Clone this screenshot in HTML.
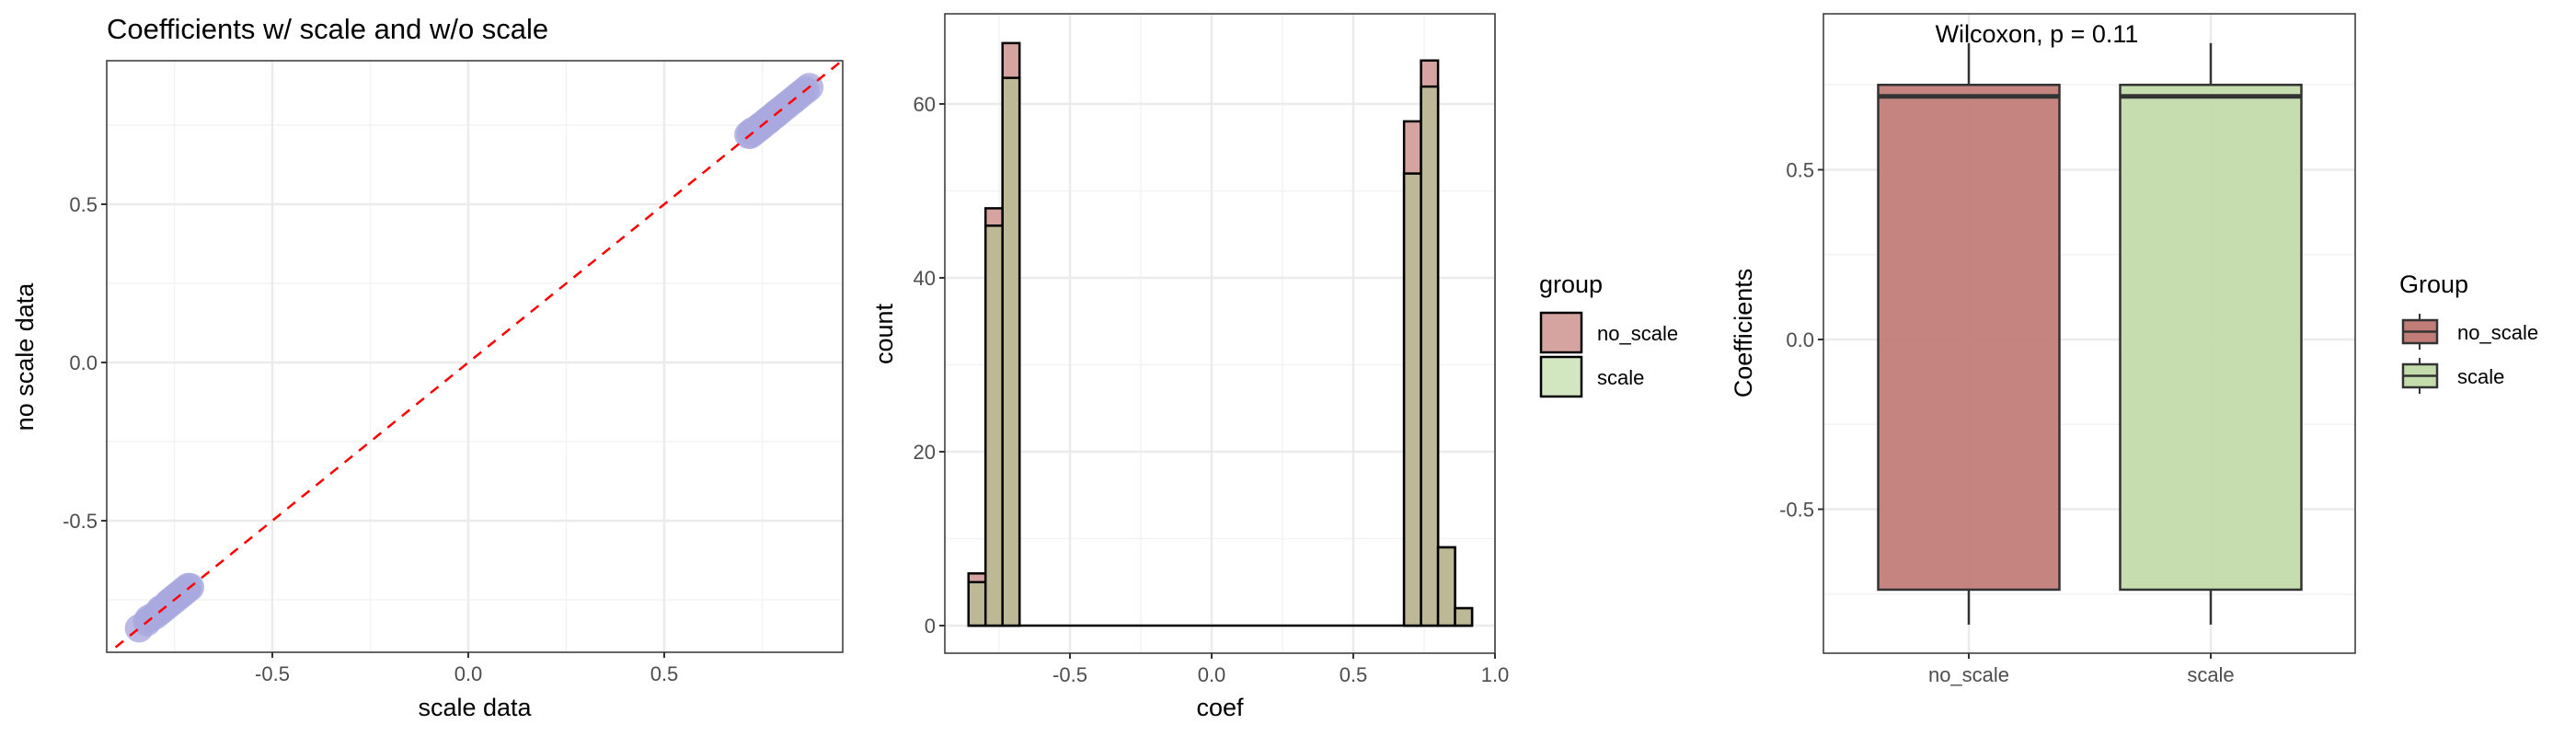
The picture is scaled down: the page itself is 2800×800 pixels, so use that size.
<!DOCTYPE html>
<html><head><meta charset="utf-8"><style>
html,body{margin:0;padding:0;background:#fff;}
svg{display:block;font-family:"Liberation Sans",sans-serif;}
</style></head><body>
<svg id="chart" width="2800" height="800" viewBox="0 0 2800 800" xmlns="http://www.w3.org/2000/svg"></svg>
<script>
// ---------- data ----------
const scatterX = [-0.84,-0.82,-0.815,-0.80,-0.79,-0.785,-0.78,-0.77,-0.765,-0.76,-0.755,-0.75,-0.745,-0.74,-0.735,-0.73,-0.725,-0.72,-0.715,-0.71,
  0.715,0.72,0.725,0.73,0.74,0.745,0.75,0.76,0.765,0.77,0.78,0.785,0.79,0.80,0.81,0.82,0.83,0.84,0.85,0.86,0.87];
const scatterY = [-0.84,-0.82,-0.81,-0.80,-0.79,-0.78,-0.78,-0.77,-0.76,-0.76,-0.75,-0.75,-0.74,-0.74,-0.73,-0.73,-0.72,-0.72,-0.71,-0.71,
  0.72,0.72,0.73,0.73,0.74,0.745,0.75,0.76,0.765,0.77,0.78,0.785,0.79,0.80,0.81,0.82,0.83,0.84,0.85,0.86,0.87];
const scatterTicks = [-0.5,0.0,0.5];
const scatterTickLabels = ["-0.5","0.0","0.5"];

const binStarts = [-0.858,-0.798,-0.738,-0.678,-0.618,-0.558,-0.498,-0.438,-0.378,-0.318,-0.258,-0.198,-0.138,-0.078,-0.018,0.042,0.102,0.162,0.222,0.282,0.342,0.402,0.462,0.522,0.582,0.619,0.679,0.739,0.799,0.859];
const noScaleCounts = [6,48,67,0,0,0,0,0,0,0,0,0,0,0,0,0,0,0,0,0,0,0,0,0,0,0,58,65,9,2];
const scaleCounts   = [5,46,63,0,0,0,0,0,0,0,0,0,0,0,0,0,0,0,0,0,0,0,0,0,0,0,52,62,9,2];
const binWidth = 0.06;
const histXTicks = [-0.5,0.0,0.5,1.0];
const histXTickLabels = ["-0.5","0.0","0.5","1.0"];
const histYTicks = [0,20,40,60];
const histYTickLabels = ["0","20","40","60"];

const boxGroups = ["no_scale","scale"];
const boxLow = [-0.84,-0.84];
const boxQ1 = [-0.737,-0.737];
const boxMedian = [0.716,0.716];
const boxQ3 = [0.75,0.75];
const boxHigh = [0.873,0.873];
const boxYTicks = [-0.5,0.0,0.5];
const boxYTickLabels = ["-0.5","0.0","0.5"];

// ---------- helpers ----------
const svg = document.getElementById('chart');
const NS = 'http://www.w3.org/2000/svg';
function mk(tag, attrs, parent, text){
  const e = document.createElementNS(NS, tag);
  for (const k in attrs) e.setAttribute(k, attrs[k]);
  if (text !== undefined) e.textContent = text;
  (parent||svg).appendChild(e);
  return e;
}
function grp(name){
  const g = mk('g', {});
  
  
  return g;
}
const tickCol = '#4d4d4d', gridCol = '#ebebeb';

// ---------- panel 1: scatter ----------
(function(){
  const L=116,R=916,T=66,B=709;
  const sx = v => 509 + v*426;
  const sy = v => 394 - v*344;
  const g = grp('scatter-panel');
  const t = mk('text',{x:116,y:42,'font-size':31,fill:'#000'},g,'Coefficients w/ scale and w/o scale');
   
  const minor = [-0.75,-0.25,0.25,0.75];
  minor.forEach(v=>{ mk('line',{x1:sx(v),x2:sx(v),y1:T,y2:B,stroke:'#f3f3f3','stroke-width':1.5},g);
                     mk('line',{x1:L,x2:R,y1:sy(v),y2:sy(v),stroke:'#f3f3f3','stroke-width':1.5},g); });
  scatterTicks.forEach((v,i)=>{
    mk('line',{x1:sx(v),x2:sx(v),y1:T,y2:B,stroke:gridCol,'stroke-width':2.5},g);
    mk('line',{x1:L,x2:R,y1:sy(v),y2:sy(v),stroke:gridCol,'stroke-width':2.5},g);
    mk('line',{x1:sx(v),x2:sx(v),y1:B,y2:B+6,stroke:'#333','stroke-width':2},g);
    mk('line',{x1:L-6,x2:L,y1:sy(v),y2:sy(v),stroke:'#333','stroke-width':2},g);
    const a = mk('text',{x:sx(v),y:B+31,'font-size':22,fill:tickCol,'text-anchor':'middle'},g,scatterTickLabels[i]);
     
    const b = mk('text',{x:L-10,y:sy(v)+8,'font-size':22,fill:tickCol,'text-anchor':'end'},g,scatterTickLabels[i]);
     
  });
  scatterX.forEach((x,i)=>{
    const c = mk('circle',{cx:sx(x),cy:sy(scatterY[i]),r:15.5,fill:'#a9a9df','fill-opacity':0.8},g);
     
  });
  const lo=-0.9, hi=0.95;
  const ln = mk('line',{x1:sx(lo),y1:sy(lo),x2:sx(hi),y2:sy(hi),stroke:'#ff0000','stroke-width':2.5,'stroke-dasharray':'11,9'},g);
   
  mk('rect',{x:L,y:T,width:R-L,height:B-T,fill:'none',stroke:'#333','stroke-width':1.5},g);
  const xt = mk('text',{x:(L+R)/2,y:778,'font-size':27,fill:'#000','text-anchor':'middle'},g,'scale data');
   
  const yt = mk('text',{x:0,y:0,'font-size':27,fill:'#000','text-anchor':'middle',transform:'translate(36,388) rotate(-90)'},g,'no scale data');
   
})();

// ---------- panel 2: histogram ----------
(function(){
  const L=1027,R=1625,T=15,B=710;
  const K=308;
  const sx = v => 1317 + v*K;
  const sy = v => 680 - v*9.45;
  const g = grp('histogram-panel');
  [-0.75,-0.25,0.25,0.75].forEach(v=>mk('line',{x1:sx(v),x2:sx(v),y1:T,y2:B,stroke:'#f3f3f3','stroke-width':1.5},g));
  [10,30,50].forEach(v=>mk('line',{x1:L,x2:R,y1:sy(v),y2:sy(v),stroke:'#f3f3f3','stroke-width':1.5},g));
  histXTicks.forEach((v,i)=>{
    mk('line',{x1:sx(v),x2:sx(v),y1:T,y2:B,stroke:gridCol,'stroke-width':2.5},g);
    mk('line',{x1:sx(v),x2:sx(v),y1:B,y2:B+6,stroke:'#333','stroke-width':2},g);
    const a = mk('text',{x:sx(v),y:B+31,'font-size':22,fill:tickCol,'text-anchor':'middle'},g,histXTickLabels[i]);
     
  });
  histYTicks.forEach((v,i)=>{
    mk('line',{x1:L,x2:R,y1:sy(v),y2:sy(v),stroke:gridCol,'stroke-width':2.5},g);
    mk('line',{x1:L-6,x2:L,y1:sy(v),y2:sy(v),stroke:'#333','stroke-width':2},g);
    const b = mk('text',{x:L-10,y:sy(v)+8,'font-size':22,fill:tickCol,'text-anchor':'end'},g,histYTickLabels[i]);
     
  });
  const base = mk('line',{x1:sx(binStarts[0]),x2:sx(binStarts[binStarts.length-1]+binWidth),y1:sy(0),y2:sy(0),stroke:'#000','stroke-width':2.5},g);
   
  binStarts.forEach((s,i)=>{
    const x0=sx(s), w=binWidth*K;
    const r1 = mk('rect',{x:x0,y:sy(noScaleCounts[i]),width:w,height:sy(0)-sy(noScaleCounts[i]),fill:'#d6a4a0',stroke:'#000','stroke-width':2.5},g);
     
  });
  binStarts.forEach((s,i)=>{
    const x0=sx(s), w=binWidth*K;
    const r2 = mk('rect',{x:x0,y:sy(scaleCounts[i]),width:w,height:sy(0)-sy(scaleCounts[i]),fill:'#bdb896',stroke:'#000','stroke-width':2.5},g);
     
  });
  mk('rect',{x:L,y:T,width:R-L,height:B-T,fill:'none',stroke:'#333','stroke-width':1.5},g);
  const xt = mk('text',{x:(L+R)/2,y:778,'font-size':27,fill:'#000','text-anchor':'middle'},g,'coef');
   
  const yt = mk('text',{x:0,y:0,'font-size':27,fill:'#000','text-anchor':'middle',transform:'translate(970,363) rotate(-90)'},g,'count');
   
  // legend
  const lg = grp('histogram-legend');
  mk('text',{x:1673,y:318,'font-size':27,fill:'#000'},lg,'group');
  const k1 = mk('rect',{x:1675,y:340,width:44,height:43,fill:'#d6a4a0',stroke:'#000','stroke-width':2.5},lg);
   
  const k2 = mk('rect',{x:1675,y:388,width:44,height:43,fill:'#d2e6c0',stroke:'#000','stroke-width':2.5},lg);
   
  mk('text',{x:1736,y:370,'font-size':22,fill:'#000'},lg,'no_scale');
  mk('text',{x:1736,y:418,'font-size':22,fill:'#000'},lg,'scale');
})();

// ---------- panel 3: boxplot ----------
(function(){
  const L=1982,R=2560,T=15,B=710;
  const sy = v => 369 - v*369;
  const cx = [2140,2403];
  const fills = ['#c27d79','#c3dcab'];
  const hw = 98.5;
  const g = grp('boxplot-panel');
  [-0.75,-0.25,0.25,0.75].forEach(v=>mk('line',{x1:L,x2:R,y1:sy(v),y2:sy(v),stroke:'#f3f3f3','stroke-width':1.5},g));
  boxYTicks.forEach((v,i)=>{
    mk('line',{x1:L,x2:R,y1:sy(v),y2:sy(v),stroke:gridCol,'stroke-width':2.5},g);
    mk('line',{x1:L-6,x2:L,y1:sy(v),y2:sy(v),stroke:'#333','stroke-width':2},g);
    const b = mk('text',{x:L-10,y:sy(v)+8,'font-size':22,fill:tickCol,'text-anchor':'end'},g,boxYTickLabels[i]);
     
  });
  boxGroups.forEach((name,i)=>{
    mk('line',{x1:cx[i],x2:cx[i],y1:T,y2:B,stroke:gridCol,'stroke-width':2.5},g);
    mk('line',{x1:cx[i],x2:cx[i],y1:B,y2:B+6,stroke:'#333','stroke-width':2},g);
    const a = mk('text',{x:cx[i],y:B+31,'font-size':22,fill:tickCol,'text-anchor':'middle'},g,name);
     
    mk('line',{x1:cx[i],x2:cx[i],y1:sy(boxHigh[i]),y2:sy(boxQ3[i]),stroke:'#333','stroke-width':2.5},g);
    mk('line',{x1:cx[i],x2:cx[i],y1:sy(boxQ1[i]),y2:sy(boxLow[i]),stroke:'#333','stroke-width':2.5},g);
    const r = mk('rect',{x:cx[i]-hw,y:sy(boxQ3[i]),width:2*hw,height:sy(boxQ1[i])-sy(boxQ3[i]),fill:fills[i],'fill-opacity':0.95,stroke:'#333','stroke-width':2.5},g);
     
    mk('line',{x1:cx[i]-hw,x2:cx[i]+hw,y1:sy(boxMedian[i]),y2:sy(boxMedian[i]),stroke:'#333','stroke-width':5},g);
  });
  mk('rect',{x:L,y:T,width:R-L,height:B-T,fill:'none',stroke:'#333','stroke-width':1.5},g);
  const w = mk('text',{x:2214,y:46,'font-size':27,fill:'#000','text-anchor':'middle'},g,'Wilcoxon, p = 0.11');
   
  const yt = mk('text',{x:0,y:0,'font-size':27,fill:'#000','text-anchor':'middle',transform:'translate(1904,362) rotate(-90)'},g,'Coefficients');
   
  const lg = grp('boxplot-legend');
  mk('text',{x:2608,y:318,'font-size':27,fill:'#000'},lg,'Group');
  [['no_scale',348,fills[0]],['scale',396,fills[1]]].forEach(([n,y,f])=>{
    mk('line',{x1:2630,x2:2630,y1:y-7,y2:y+32,stroke:'#333','stroke-width':2},lg);
    const k = mk('rect',{x:2612,y:y,width:37,height:25,fill:f,stroke:'#333','stroke-width':2.5},lg);
     
    mk('line',{x1:2612,x2:2649,y1:y+12.5,y2:y+12.5,stroke:'#333','stroke-width':2.5},lg);
    mk('text',{x:2671,y:y+21,'font-size':22,fill:'#000'},lg,n);
  });
})();
</script>
</body></html>
